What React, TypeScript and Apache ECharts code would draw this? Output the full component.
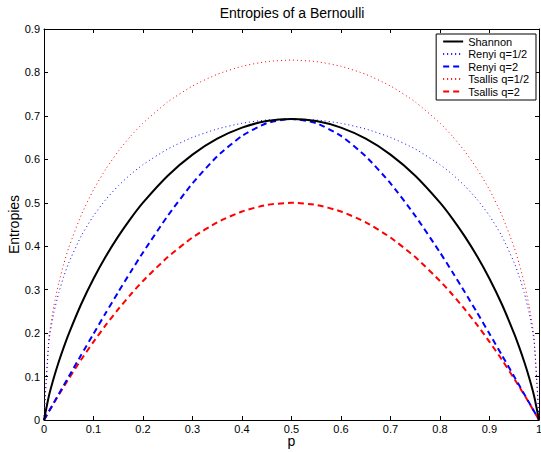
import React, { useEffect, useRef } from "react";
import * as echarts from "echarts";

const P = [0, 0.01, 0.02, 0.03, 0.04, 0.05, 0.075, 0.1, 0.125, 0.15, 0.175, 0.2, 0.25, 0.3, 0.35, 0.4, 0.45, 0.5,
  0.55, 0.6, 0.65, 0.7, 0.75, 0.8, 0.825, 0.85, 0.875, 0.9, 0.925, 0.95, 0.96, 0.97, 0.98, 0.99, 1];

const shannon = [0, 0.0560, 0.0980, 0.1347, 0.1679, 0.1985, 0.2664, 0.3251, 0.3768, 0.4227, 0.4637, 0.5004, 0.5623, 0.6109, 0.6474, 0.6730, 0.6881, 0.6931,
  0.6881, 0.6730, 0.6474, 0.6109, 0.5623, 0.5004, 0.4637, 0.4227, 0.3768, 0.3251, 0.2664, 0.1985, 0.1679, 0.1347, 0.0980, 0.0560, 0];
const renyiHalf = [0, 0.1815, 0.2469, 0.2935, 0.3307, 0.3618, 0.4232, 0.4700, 0.5077, 0.5389, 0.5653, 0.5878, 0.6238, 0.6505, 0.6698, 0.6830, 0.6906, 0.6931,
  0.6906, 0.6830, 0.6698, 0.6505, 0.6238, 0.5878, 0.5653, 0.5389, 0.5077, 0.4700, 0.4232, 0.3618, 0.3307, 0.2935, 0.2469, 0.1815, 0];
const renyiTwo = [0, 0.0200, 0.0400, 0.0600, 0.0799, 0.0998, 0.1494, 0.1985, 0.2469, 0.2944, 0.3407, 0.3857, 0.4700, 0.5447, 0.6070, 0.6539, 0.6832, 0.6931,
  0.6832, 0.6539, 0.6070, 0.5447, 0.4700, 0.3857, 0.3407, 0.2944, 0.2469, 0.1985, 0.1494, 0.0998, 0.0799, 0.0600, 0.0400, 0.0200, 0];
const tsallisHalf = [0, 0.1900, 0.2627, 0.3162, 0.3596, 0.3966, 0.4713, 0.5298, 0.5779, 0.6185, 0.6533, 0.6833, 0.7321, 0.7688, 0.7957, 0.8141, 0.8249, 0.8284,
  0.8249, 0.8141, 0.7957, 0.7688, 0.7321, 0.6833, 0.6533, 0.6185, 0.5779, 0.5298, 0.4713, 0.3966, 0.3596, 0.3162, 0.2627, 0.1900, 0];
const tsallisTwo = [0, 0.0198, 0.0392, 0.0582, 0.0768, 0.0950, 0.1388, 0.1800, 0.2188, 0.2550, 0.2888, 0.3200, 0.3750, 0.4200, 0.4550, 0.4800, 0.4950, 0.5000,
  0.4950, 0.4800, 0.4550, 0.4200, 0.3750, 0.3200, 0.2888, 0.2550, 0.2188, 0.1800, 0.1388, 0.0950, 0.0768, 0.0582, 0.0392, 0.0198, 0];

const seriesNames = ["Shannon", "Renyi q=1/2", "Renyi q=2", "Tsallis q=1/2", "Tsallis q=2"];
const titleText = "Entropies of a Bernoulli";
const xName = "p";
const yName = "Entropies";

const FONT = "'Liberation Sans', Arial, Helvetica, sans-serif";

export default function App() {
  const ref = useRef<HTMLDivElement>(null);
  useEffect(() => {
    if (!ref.current) return;
    const chart = echarts.init(ref.current, null, { renderer: "svg" });
    const mk = (vals: number[]) => P.map((p, i) => [p, vals[i]]);
    const styles = [
      { color: "#000000", width: 2, type: "solid" as any },
      { color: "#0000ff", width: 1, type: [1, 3] as any },
      { color: "#0000ff", width: 2, type: [6, 4] as any },
      { color: "#ff0000", width: 1, type: [1, 3] as any },
      { color: "#ff0000", width: 2, type: [6, 4] as any },
    ];
    const datas = [shannon, renyiHalf, renyiTwo, tsallisHalf, tsallisTwo];
    const axisCommon = {
      type: "value" as const,
      min: 0,
      interval: 0.1,
      axisLine: { show: true, onZero: false, lineStyle: { color: "#000", width: 1 } },
      axisTick: { show: true, inside: true, length: 4, lineStyle: { color: "#000" } },
      splitLine: { show: false },
    };
    chart.setOption({
      animation: false,
      backgroundColor: "#fff",
      textStyle: { fontFamily: FONT },
      grid: { left: 44, right: 2, top: 29, bottom: 32, containLabel: false, outerBoundsMode: "none" },
      graphic: [
        {
          type: "text",
          x: 292,
          y: 13,
          style: { text: titleText, font: `14px ${FONT}`, fill: "#000", textAlign: "center", textVerticalAlign: "middle" },
        },
      ],
      legend: {
        orient: "vertical",
        right: 5,
        top: 34,
        data: seriesNames,
        itemWidth: 20,
        itemHeight: 11,
        itemGap: 1.5,
        padding: [2, 7, 3, 6],
        borderColor: "#000",
        borderWidth: 1,
        backgroundColor: "#fff",
        itemStyle: { opacity: 0 },
        textStyle: { fontSize: 11, color: "#000", fontFamily: FONT },
      },
      xAxis: [
        {
          ...axisCommon,
          max: 1,
          position: "bottom",
          name: xName,
          nameLocation: "middle",
          nameGap: 14,
          nameMoveOverlap: false,
          nameTextStyle: { fontSize: 14, color: "#000", fontFamily: FONT },
          axisLabel: { fontSize: 11, color: "#000", margin: 3, fontFamily: FONT },
        },
        {
          ...axisCommon,
          max: 1,
          position: "top",
          axisLabel: { show: false },
        },
      ],
      yAxis: [
        {
          ...axisCommon,
          max: 0.9,
          position: "left",
          name: yName,
          nameLocation: "middle",
          nameGap: 23,
          nameMoveOverlap: false,
          nameTextStyle: { fontSize: 14, color: "#000", fontFamily: FONT },
          axisLabel: { fontSize: 11, color: "#000", margin: 4, fontFamily: FONT },
        },
        {
          ...axisCommon,
          max: 0.9,
          position: "right",
          axisLabel: { show: false },
        },
      ],
      series: seriesNames.map((name, i) => ({
        name,
        type: "line",
        xAxisIndex: 0,
        yAxisIndex: 0,
        data: mk(datas[i]),
        symbol: "none",
        smooth: 0.2,
        lineStyle: styles[i],
        itemStyle: { color: styles[i].color },
        z: 5 - i,
      })),
    });
    return () => chart.dispose();
  }, []);
  return <div ref={ref} style={{ width: 541, height: 452, position: "absolute", left: 0, top: 0 }} />;
}
